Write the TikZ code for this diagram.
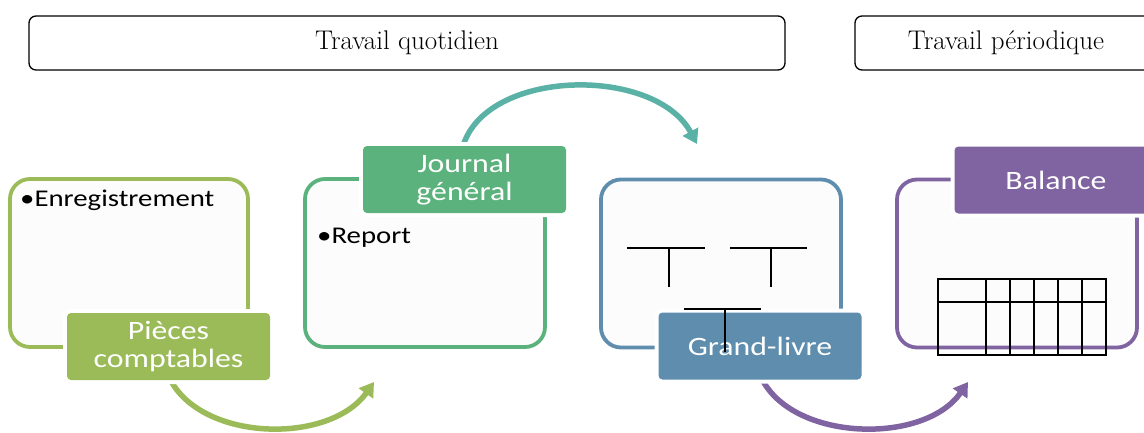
\documentclass[tikz,border=0pt]{standalone}
\usepackage{fontspec}
\newfontfamily\lblfont[FakeStretch=1.2]{Carlito}
\usetikzlibrary{arrows.meta}
\definecolor{cA}{HTML}{9BBB59}
\definecolor{cB}{HTML}{5CB27C}
\definecolor{cT}{HTML}{5AB1A6}
\definecolor{cC}{HTML}{5F8DAD}
\definecolor{cD}{HTML}{8064A2}
\definecolor{boxfill}{HTML}{FCFCFC}
\tikzset{
  bigbox/.style={draw=#1, line width=3.8pt, fill=boxfill, rounded corners=20pt,
    minimum width=240pt, minimum height=168pt, inner sep=0pt},
  lbl/.style={fill=#1, text=white, rounded corners=4pt, minimum width=203pt,
    minimum height=67pt, inner sep=0pt, align=center,
    preaction={draw=white, line width=8pt},
    font=\lblfont\fontsize{26.5}{28}\selectfont},
  topbox/.style={draw=black, line width=1.3pt, rounded corners=7pt, fill=white,
    minimum height=54pt, inner sep=0pt, font=\fontsize{27}{30}\selectfont},
  bullettext/.style={anchor=west, inner sep=0pt, font=\lblfont\fontsize{24}{26}\selectfont},
  flow/.style={line width=5.5pt, draw=#1, -{Triangle[length=14pt,width=17pt]}},
  rule/.style={line width=1.6pt, draw=black}
}
\begin{document}
\begin{tikzpicture}[x=1pt,y=-1pt]
\useasboundingbox (0,0) rectangle (1144,432);
\clip (0,0) rectangle (1144,432);

% top headers
\node[topbox, minimum width=756pt] (quot) at (407,43) {Travail quotidien};
\node[topbox, minimum width=302pt] (peri) at (1006,43) {Travail périodique};

% arrow end points
\coordinate (a1s) at (171,381);
\coordinate (a1e) at (374,382);
\coordinate (a2s) at (463,146);
\coordinate (a2e) at (697,144);
\coordinate (a3s) at (763,381);
\coordinate (a3e) at (968,382);

% arrows
\draw[flow=cA] (a1s) .. controls (205,442) and (330,444) .. (a1e);
\draw[flow=cT] (a2s) .. controls (487,68) and (655,66) .. (a2e);
\draw[flow=cD] (a3s) .. controls (797,442) and (925,444) .. (a3e);

% big boxes
\node[bigbox=cA, minimum width=238pt] (b1) at (129,263) {};
\node[bigbox=cB] (b2) at (425,263) {};
\node[bigbox=cC] (b3) at (721,263.5) {};
\node[bigbox=cD] (b4) at (1017,263.5) {};

% texts in boxes
\node[bullettext] (enr) at (20,200) {•Enregistrement};
\node[bullettext] (rep) at (317,238) {•Report};

% T accounts
\draw[rule] (627,248) -- (705,248) (669,248) -- (669,287);
\draw[rule] (730,248) -- (807,248) (771,248) -- (771,287);

% labels
\node[lbl=cA] (pc) at (168.5,346.5) {Pièces\\comptables};
\node[lbl=cB] (jg) at (464.5,179.5) {Journal\\général};
\node[lbl=cC] (gl) at (760,346) {Grand-livre};
\node[lbl=cD] (bal) at (1056,180) {Balance};

% third T over the Grand-livre label
\draw[rule] (684,309) -- (761,309) (725,309) -- (725,352);

% balance table
\draw[rule] (938,279) rectangle (1106,355);
\draw[rule] (938,302) -- (1106,302);
\foreach \xx in {986,1010,1034,1058,1082} \draw[rule] (\xx,279) -- (\xx,355);
\end{tikzpicture}
\end{document}
